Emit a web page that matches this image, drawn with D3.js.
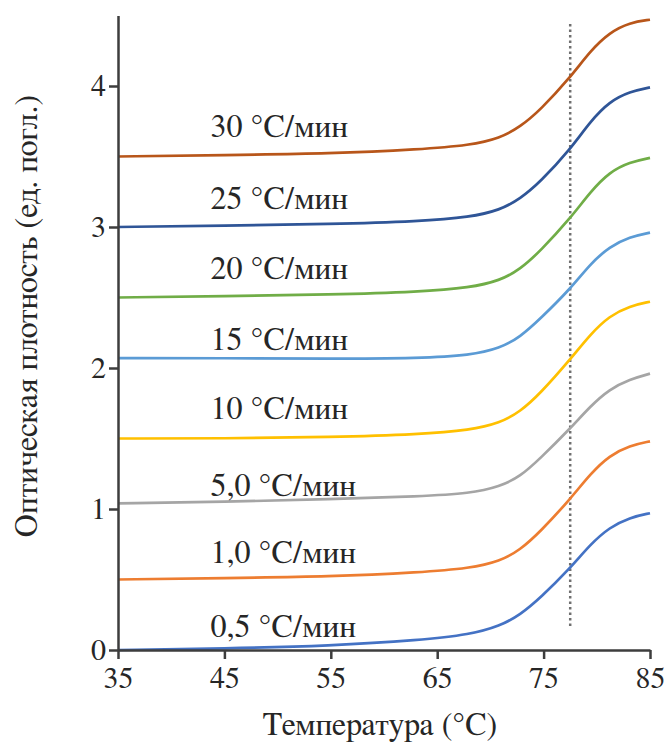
<!DOCTYPE html>
<html><head><meta charset="utf-8">
<script src="https://cdn.jsdelivr.net/npm/d3@7"></script>
<style>body{margin:0;background:#fff}</style>
</head><body>
<svg id="c" width="667" height="747"></svg>
<script>
const temps = [35, 45, 55, 63.4, 68.1, 70.9, 72.8, 74.7, 77.5, 79.4, 81.2, 83.1, 85];
const rates = ["0,5", "1,0", "5,0", "10", "15", "20", "25", "30"];
const s05 = [0.00, 0.01, 0.03, 0.07, 0.11, 0.17, 0.25, 0.37, 0.58, 0.75, 0.87, 0.94, 0.97];
const s10 = [0.50, 0.51, 0.52, 0.55, 0.58, 0.63, 0.71, 0.84, 1.07, 1.25, 1.38, 1.45, 1.48];
const s50 = [1.04, 1.05, 1.07, 1.09, 1.11, 1.16, 1.23, 1.36, 1.57, 1.73, 1.85, 1.92, 1.96];
const s100 = [1.50, 1.50, 1.51, 1.53, 1.56, 1.61, 1.69, 1.82, 2.06, 2.24, 2.37, 2.44, 2.47];
const s150 = [2.07, 2.07, 2.065, 2.07, 2.09, 2.14, 2.22, 2.35, 2.56, 2.74, 2.86, 2.93, 2.96];
const s200 = [2.50, 2.51, 2.52, 2.54, 2.57, 2.62, 2.70, 2.83, 3.06, 3.25, 3.39, 3.46, 3.49];
const s250 = [3.00, 3.01, 3.02, 3.04, 3.07, 3.12, 3.20, 3.32, 3.55, 3.75, 3.89, 3.96, 3.99];
const s300 = [3.50, 3.51, 3.52, 3.55, 3.58, 3.63, 3.71, 3.83, 4.06, 4.25, 4.38, 4.45, 4.47];
const seriesValues = [s05, s10, s50, s100, s150, s200, s250, s300];
const labelTemp = 43.7;
const labelValue = [0.09, 0.62, 1.09, 1.64, 2.13, 2.63, 3.13, 3.64];
const colors = ["#4472c4", "#ed7d31", "#a5a5a5", "#ffc000", "#5b9bd5", "#70ad47", "#2f5597", "#b8561a"];
const xTicks = [35, 45, 55, 65, 75, 85];
const yTicks = [0, 1, 2, 3, 4];
const markerTemp = 77.5, markerRange = [0.17, 4.45];

const FONT = '"Nimbus Roman", "FreeSerif", "Liberation Serif", serif';
const svg = d3.select("#c");
const x = d3.scaleLinear().domain([35, 85]).range([118, 650]);
const y = d3.scaleLinear().domain([0, 4.5]).range([650, 15.5]);
const axisColor = "#3d3d3d";
const textColor = "#262626";

svg.append("line")
  .attr("x1", x(markerTemp)).attr("x2", x(markerTemp))
  .attr("y1", y(markerRange[0])).attr("y2", y(markerRange[1]))
  .attr("stroke", "#6f6f6f").attr("stroke-width", 2.5).attr("stroke-dasharray", "2.5,3");

const line = d3.line().x((d, i) => x(temps[i])).y(d => y(d)).curve(d3.curveBasis);
seriesValues.forEach((vals, k) => {
  svg.append("path").attr("d", line(vals)).attr("fill", "none")
    .attr("stroke", colors[k]).attr("stroke-width", 2.7);
});

const gx = svg.append("g").attr("transform", `translate(0,${y(0)})`)
  .call(d3.axisBottom(x).tickValues(xTicks).tickFormat(d3.format("d")).tickSize(9).tickSizeOuter(0));
const gy = svg.append("g").attr("transform", `translate(${x(35)},0)`)
  .call(d3.axisLeft(y).tickValues(yTicks).tickFormat(d3.format("d")).tickSize(9).tickSizeOuter(0));
[gx, gy].forEach(g => {
  g.select(".domain").attr("stroke", axisColor).attr("stroke-width", 2.5);
  g.selectAll(".tick line").attr("stroke", axisColor).attr("stroke-width", 2.5);
  g.selectAll(".tick text").attr("fill", textColor)
    .style("font-family", FONT).style("font-size", "30px");
});
gx.selectAll(".tick text").attr("y", 38).attr("dy", 0);
gy.selectAll(".tick text").attr("x", -12).attr("dy", "0.33em");

rates.forEach((r, k) => {
  svg.append("text").attr("x", x(labelTemp)).attr("y", y(labelValue[k]))
    .attr("fill", textColor).style("font-family", FONT).style("font-size", "32px")
    .text(r + " °C/мин");
});

svg.append("text").attr("x", 380).attr("y", 735).attr("text-anchor", "middle")
  .attr("fill", textColor).style("font-family", FONT).style("font-size", "32px")
  .text("Температура (°C)");
svg.append("text").attr("transform", "translate(37,316) rotate(-90)").attr("text-anchor", "middle")
  .attr("fill", textColor).style("font-family", FONT).style("font-size", "32px")
  .text("Оптическая плотность (ед. погл.)");
</script>
</body></html>
